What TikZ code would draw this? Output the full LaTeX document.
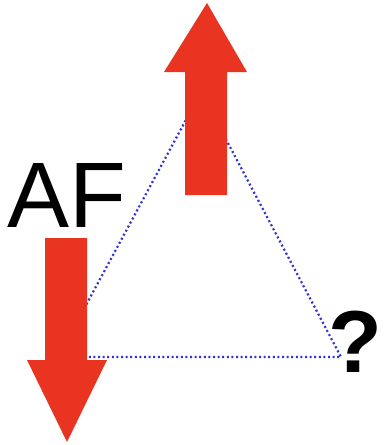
\documentclass[tikz,border=0pt]{standalone}
\usepackage{fontspec}
\setmainfont{Liberation Sans}
\definecolor{arrowred}{RGB}{232,52,32}
\definecolor{dotblue}{RGB}{50,50,215}
\begin{document}
\begin{tikzpicture}[x=1pt,y=-1pt,
  bigarrow/.style={fill=arrowred,draw=none},
  dotline/.style={draw=dotblue,line width=2.2pt,dash pattern=on 2pt off 2.6pt},
  label/.style={inner sep=0pt,anchor=base west,text=black}]
\useasboundingbox (0,0) rectangle (385,445);
\fill[white] (0,0) rectangle (385,445);
% triangle vertices
\coordinate (tl) at (58,357);
\coordinate (tt) at (201,92);
\coordinate (tr) at (341,357);
\draw[dotline] (tl) -- (tt) -- (tr) -- cycle;
% up arrow
\fill[bigarrow] (207,3) -- (247,72) -- (227,72) -- (227,195) -- (185,195) -- (185,72) -- (164,72) -- cycle;
% down arrow
\fill[bigarrow] (45,238) -- (87,238) -- (87,360) -- (107,360) -- (67,442) -- (27,360) -- (45,360) -- cycle;
% labels
\node[label,font=\fontsize{93}{93}\selectfont] (af) at (7,227) {AF};
\node[label,font=\fontsize{88}{88}\selectfont\bfseries] (q) at (328,372) {?};
\end{tikzpicture}
\end{document}
